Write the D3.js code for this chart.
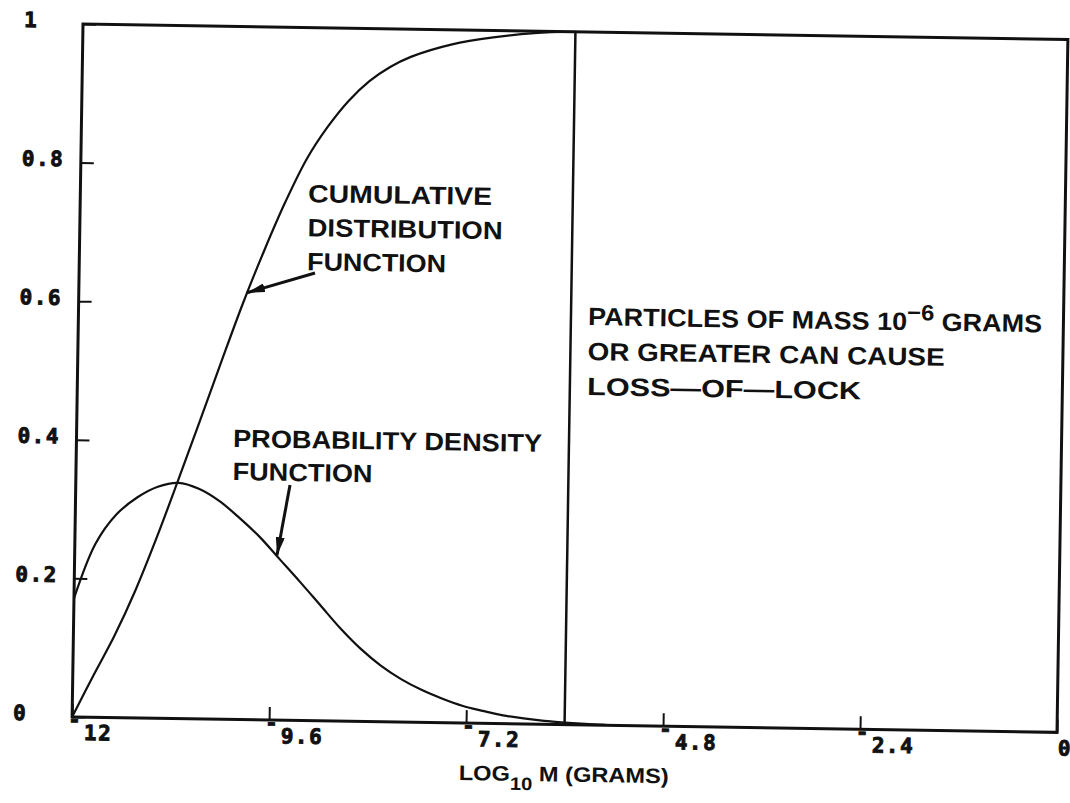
<!DOCTYPE html>
<html>
<head>
<meta charset="utf-8">
<script src="https://cdn.jsdelivr.net/npm/d3@7"></script>
<style>
  html, body { margin: 0; padding: 0; background: #fff; }
  svg { display: block; }
</style>
</head>
<body>
<svg id="chart" width="1070" height="803"></svg>
<script>
// log10 of particle mass (grams) and the cumulative distribution function
const cdfMass = [-12, -11.75, -11.5, -11.25, -11, -10.75, -10.5, -10.25, -10, -9.75, -9.5,
                 -9.25, -9, -8.75, -8.5, -8.25, -8, -7.5, -7, -6.5, -6];
const cdfValues = [0, 0.06, 0.118, 0.185, 0.262, 0.345, 0.43, 0.516, 0.6, 0.677, 0.748,
                   0.81, 0.857, 0.895, 0.924, 0.945, 0.96, 0.979, 0.99, 0.997, 1.0];

// probability density function over the same mass range
const pdfMass = [-12, -11.75, -11.5, -11.25, -11, -10.75, -10.5, -10.25, -10, -9.75, -9.5,
                 -9.25, -9, -8.75, -8.5, -8.25, -8, -7.75, -7.5, -7.25, -7, -6.75, -6.5,
                 -6.25, -6, -5.75, -5.5];
const pdfValues = [0.171, 0.25, 0.293, 0.318, 0.334, 0.34, 0.332, 0.315, 0.291, 0.264, 0.232,
                   0.2, 0.167, 0.134, 0.105, 0.081, 0.062, 0.047, 0.035, 0.025, 0.018, 0.012, 0.008,
                   0.005, 0.003, 0.0015, 0.0005];

// mass above which loss-of-lock can occur
const lockThreshold = -6;

const xTickValues = [-12, -9.6, -7.2, -4.8, -2.4, 0];
const xTickLabels = ["-12", "-9.6", "-7.2", "-4.8", "-2.4", "0"];
const yTickValues = [0, 0.2, 0.4, 0.6, 0.8, 1];
const yTickLabels = ["0", "0.2", "0.4", "0.6", "0.8", "1"];

const W = 985, H = 693;
const INK = "#111";
const SANS = "'Liberation Sans', Arial, Helvetica, sans-serif";
const MONO = "'DejaVu Sans Mono', monospace";

const svg = d3.select("#chart");
const plot = svg.append("g").attr("transform", "translate(83,24) rotate(0.9)");

const x = d3.scaleLinear().domain([-12, 0]).range([0, W]);
const y = d3.scaleLinear().domain([0, 1]).range([H, 0]);

// arrowhead marker
svg.append("defs").append("marker")
  .attr("id", "head")
  .attr("markerUnits", "userSpaceOnUse")
  .attr("viewBox", "0 0 18 9")
  .attr("refX", 18).attr("refY", 4.5)
  .attr("markerWidth", 18).attr("markerHeight", 9)
  .attr("orient", "auto")
  .append("path").attr("d", "M0,0 L18,4.5 L0,9 Z").attr("fill", INK);

// inward ticks
plot.append("g")
  .attr("transform", `translate(0,${H})`)
  .call(d3.axisBottom(x).tickValues(xTickValues).tickSizeInner(-13).tickSizeOuter(0).tickFormat(() => ""))
  .call(g => g.select(".domain").remove())
  .call(g => g.selectAll("line").attr("stroke", INK).attr("stroke-width", 2));

plot.append("g")
  .call(d3.axisLeft(y).tickValues(yTickValues).tickSizeInner(-13).tickSizeOuter(0).tickFormat(() => ""))
  .call(g => g.select(".domain").remove())
  .call(g => g.selectAll("line").attr("stroke", INK).attr("stroke-width", 2));

// frame
plot.append("rect")
  .attr("x", 0).attr("y", 0).attr("width", W).attr("height", H)
  .attr("fill", "none").attr("stroke", INK).attr("stroke-width", 3);

// heavy tick-label style
function tickFont(g) {
  g.attr("font-family", MONO).attr("font-weight", "bold").attr("font-size", 21)
    .attr("fill", INK).attr("stroke", INK).attr("stroke-width", 0.9);
}

// x tick labels: the minus sign sits on the axis, digits below
const xLab = plot.append("g").call(tickFont)
  .selectAll("text")
  .data(xTickValues.map((v, i) => ({ v, label: xTickLabels[i] })))
  .join("text");
xLab.each(function (d) {
  const t = d3.select(this);
  if (d.label.startsWith("-")) {
    t.append("tspan").attr("x", x(d.v) - 4).attr("y", H + 10).text("-");
    t.append("tspan").attr("x", x(d.v) + 12).attr("y", H + 23)
      .attr("letter-spacing", 1.5).text(d.label.slice(1));
  } else {
    t.append("tspan").attr("x", x(d.v) + 1).attr("y", H + 23).text(d.label);
  }
});

// y tick labels
plot.append("g").call(tickFont)
  .selectAll("text")
  .data(yTickValues.map((v, i) => ({ v, label: yTickLabels[i] })))
  .join("text")
  .attr("x", -59).attr("y", d => y(d.v) + 4)
  .attr("letter-spacing", 1.5)
  .text(d => d.label);

// x axis title
const title = plot.append("text")
  .attr("x", W / 2).attr("y", H + 57)
  .attr("text-anchor", "middle")
  .attr("font-family", SANS).attr("font-weight", "bold").attr("font-size", 21).attr("fill", INK)
  .attr("textLength", 210).attr("lengthAdjust", "spacingAndGlyphs");
title.append("tspan").text("LOG");
title.append("tspan").attr("dy", 9).attr("font-size", 18).text("10");
title.append("tspan").attr("dy", -9).text(" M (GRAMS)");

// threshold line
plot.append("line")
  .attr("x1", x(lockThreshold)).attr("x2", x(lockThreshold))
  .attr("y1", y(0)).attr("y2", y(1))
  .attr("stroke", INK).attr("stroke-width", 2.5);

// curves
const line = d3.line().x(d => x(d[0])).y(d => y(d[1])).curve(d3.curveCatmullRom.alpha(0.5));

plot.append("path")
  .datum(cdfMass.map((m, i) => [m, cdfValues[i]]))
  .attr("d", line)
  .attr("fill", "none").attr("stroke", INK).attr("stroke-width", 2.2);

plot.append("path")
  .datum(pdfMass.map((m, i) => [m, pdfValues[i]]))
  .attr("d", line)
  .attr("fill", "none").attr("stroke", INK).attr("stroke-width", 2.2);

// annotation helper
function block(x0, y0, lines, lineGap) {
  const g = plot.append("g")
    .attr("font-family", SANS).attr("font-weight", "bold").attr("font-size", 25).attr("fill", INK);
  lines.forEach((ln, i) => {
    const t = g.append("text")
      .attr("x", x0).attr("y", y0 + i * lineGap)
      .attr("textLength", ln.w).attr("lengthAdjust", "spacingAndGlyphs");
    ln.parts.forEach(p => {
      const s = t.append("tspan").text(p.text);
      if (p.dy) s.attr("dy", p.dy);
      if (p.size) s.attr("font-size", p.size);
    });
  });
}

block(x(-9.225), y(0.748), [
  { w: 184, parts: [{ text: "CUMULATIVE" }] },
  { w: 195, parts: [{ text: "DISTRIBUTION" }] },
  { w: 139, parts: [{ text: "FUNCTION" }] }
], 34);

block(x(-10.092), y(0.393), [
  { w: 309, parts: [{ text: "PROBABILITY DENSITY" }] },
  { w: 140, parts: [{ text: "FUNCTION" }] }
], 33);

block(x(-5.79), y(0.577), [
  { w: 454, parts: [{ text: "PARTICLES OF MASS 10" }, { text: "\u22126", dy: -10, size: 22 }, { text: " GRAMS", dy: 10, size: 25 }] },
  { w: 357, parts: [{ text: "OR GREATER CAN CAUSE" }] },
  { w: 274, parts: [{ text: "LOSS\u2014OF\u2014LOCK" }] }
], 35);

// leader arrows
const arrows = [
  { from: [-9.126, 0.646], to: [-9.951, 0.616] },
  { from: [-9.39, 0.3395], to: [-9.535, 0.238] }
];
plot.append("g").selectAll("line")
  .data(arrows)
  .join("line")
  .attr("x1", d => x(d.from[0])).attr("y1", d => y(d.from[1]))
  .attr("x2", d => x(d.to[0])).attr("y2", d => y(d.to[1]))
  .attr("stroke", INK).attr("stroke-width", 3)
  .attr("marker-end", "url(#head)");
</script>
</body>
</html>
